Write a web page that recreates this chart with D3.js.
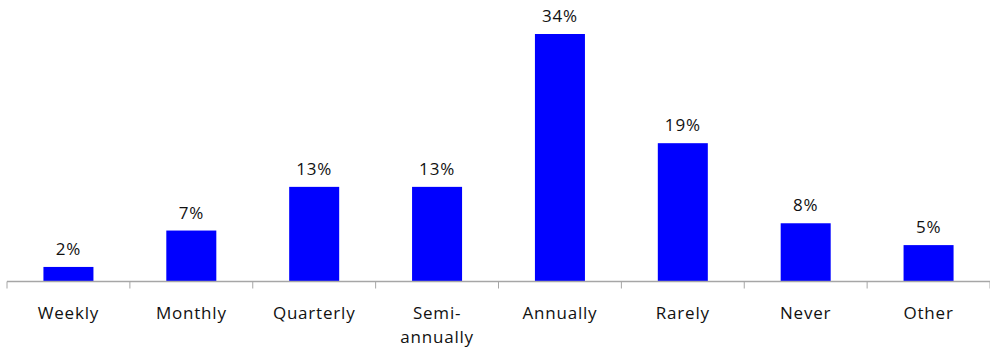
<!DOCTYPE html>
<html>
<head>
<meta charset="utf-8">
<script src="https://cdn.jsdelivr.net/npm/d3@7"></script>
<style>
  html, body { margin: 0; padding: 0; background: #fff; }
  svg text { font-family: "Open Sans", "Noto Sans", sans-serif; fill: #111; letter-spacing: 0.8px; }
</style>
</head>
<body>
<svg id="chart" width="990" height="349"></svg>
<script>
// Frequency categories and their shares (percent)
const categories = ["Weekly", "Monthly", "Quarterly", "Semi-annually", "Annually", "Rarely", "Never", "Other"];
const labelLines = [["Weekly"], ["Monthly"], ["Quarterly"], ["Semi-", "annually"], ["Annually"], ["Rarely"], ["Never"], ["Other"]];
const values = [2, 7, 13, 13, 34, 19, 8, 5];

const svg = d3.select("#chart");
const baseY = 281.5;

const x = d3.scaleBand()
  .domain(categories)
  .range([7, 990])
  .paddingInner(0.593)
  .paddingOuter(0.2965);

const y = d3.scaleLinear()
  .domain([0, 34])
  .range([baseY, 34]);

// Bars
svg.append("g").selectAll("rect")
  .data(values)
  .join("rect")
  .attr("x", (d, i) => x(categories[i]))
  .attr("width", x.bandwidth())
  .attr("y", d => y(d))
  .attr("height", d => baseY - y(d))
  .attr("fill", "#0000ff");

// Value labels
svg.append("g").selectAll("text")
  .data(values)
  .join("text")
  .attr("x", (d, i) => x(categories[i]) + x.bandwidth() / 2)
  .attr("y", d => y(d) - 12)
  .attr("text-anchor", "middle")
  .attr("font-size", 17)
  .text(d => d + "%");

// Category axis with tick marks between categories
const axisLeft = 7, axisRight = 990;
const axis = svg.append("g");
axis.append("line")
  .attr("x1", axisLeft).attr("x2", axisRight)
  .attr("y1", baseY).attr("y2", baseY)
  .attr("stroke", "#a6a6a6").attr("stroke-width", 1.5);
const tickPos = d3.range(categories.length + 1).map(i => axisLeft + i * (axisRight - axisLeft) / categories.length);
axis.selectAll("line.tick")
  .data(tickPos)
  .join("line")
  .attr("class", "tick")
  .attr("x1", d => d).attr("x2", d => d)
  .attr("y1", baseY).attr("y2", baseY + 7)
  .attr("stroke", "#a6a6a6").attr("stroke-width", 1);

// Category labels
const catText = svg.append("g").selectAll("text")
  .data(categories)
  .join("text")
  .attr("x", d => x(d) + x.bandwidth() / 2)
  .attr("y", 319)
  .attr("text-anchor", "middle")
  .attr("font-size", 17);
catText.each(function(d, i) {
  const t = d3.select(this);
  labelLines[i].forEach((line, j) => {
    t.append("tspan")
      .attr("x", x(d) + x.bandwidth() / 2)
      .attr("dy", j === 0 ? 0 : 24)
      .text(line);
  });
});
</script>
</body>
</html>
